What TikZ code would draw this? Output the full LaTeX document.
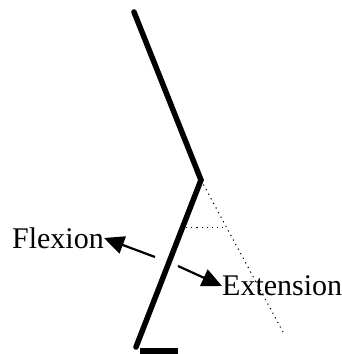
\documentclass[tikz,border=0pt]{standalone}
\usepackage{fontspec}
\setmainfont{Liberation Serif}
\usetikzlibrary{arrows.meta,positioning}

\begin{document}
\begin{tikzpicture}[
  x=1pt, y=-1pt,
  limb/.style={line width=5.5pt, line cap=round},
  guide/.style={dash pattern=on 1.2pt off 4pt, line width=1pt},
  label/.style={font=\fontsize{30}{32}\selectfont, inner sep=0pt},
  arrow/.style={-{Triangle[length=20pt, width=18pt]}, line width=2.2pt}
]
\useasboundingbox (0,0) rectangle (342,354);
\coordinate (hip) at (134,12);
\coordinate (knee) at (201,180);
\coordinate (ankle) at (136,347);
\coordinate (toe) at (178,351);
\coordinate (heel) at (140,351);
\coordinate (shank) at (283,332);

\draw[limb] (hip) -- (knee) -- (ankle);
\draw[line width=6pt] (heel) -- (toe);
\draw[guide] (knee) -- (shank);
\coordinate (refL) at (186,227);
\coordinate (refR) at (223,227);
\draw[guide] (refL) -- (refR);

\node[label, anchor=east] (flex) at (104,238) {Flexion};
\node[label, anchor=west] (ext) at (222,286) {Extension};

\coordinate (flextail) at (155,257);
\coordinate (exttail) at (178,266);
\draw[arrow] (flextail) -- (flex.east);
\draw[arrow] (exttail) -- (ext.west);
\end{tikzpicture}
\end{document}
